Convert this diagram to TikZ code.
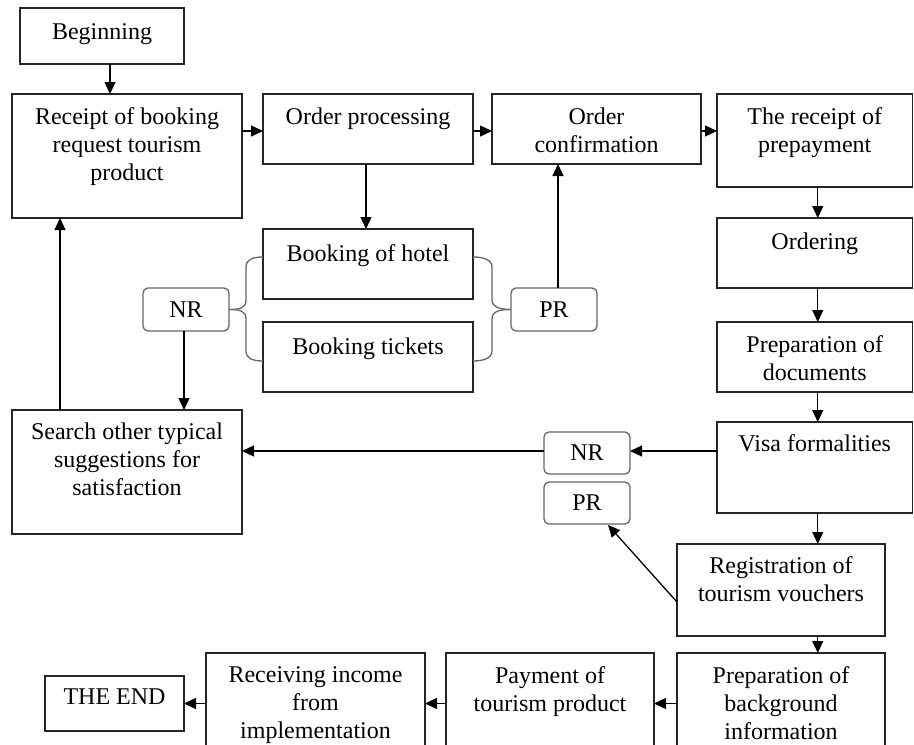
\documentclass[tikz,border=0pt]{standalone}
\usepackage{fontspec}
\setmainfont{Liberation Serif}
\usetikzlibrary{arrows.meta,calc}
\tikzset{
  boxst/.style={draw=black!85, line width=1.3pt, inner sep=0pt, outer sep=0pt},
  rbox/.style={draw=black!60, line width=1.3pt, rounded corners=5pt, inner sep=0pt, outer sep=0pt, font=\fontsize{24}{28}\selectfont},
  txt/.style={inner sep=0pt, outer sep=0pt, align=center, font=\fontsize{24}{28}\selectfont},
  arr/.style={line width=1.3pt, -{Triangle[length=12pt,width=11pt]}},
  brace/.style={draw=black!60, line width=1.3pt},
}
\newcommand\mybox[7]{%
  \node[boxst, minimum width={#4-#2}, minimum height={#5-#3}] (#1) at ({(#2+#4)/2},{(#3+#5)/2}) {};
  \node[txt, anchor=north] (#1t) at ($(#1.north)+(0,#6)$) {#7};
}
\newcommand\myrbox[6]{%
  \node[rbox, minimum width={#4-#2}, minimum height={#5-#3}] (#1) at ({(#2+#4)/2},{(#3+#5)/2}) {#6};
}
\begin{document}
\begin{tikzpicture}[x=1pt,y=-1pt]
\path[use as bounding box] (0,0) rectangle (914,745);
\clip (0,0) rectangle (914,745);

\mybox{begin}{20}{8}{184}{64}{15.5}{Beginning}
\mybox{receipt}{12}{94}{242}{218}{13.5}{Receipt of booking\\request tourism\\product}
\mybox{proc}{263}{94}{473}{164}{13.5}{Order processing}
\mybox{conf}{492}{94}{701}{164}{13.5}{Order\\confirmation}
\mybox{prepay}{717}{94}{912.5}{187}{13.5}{The receipt of\\prepayment}
\mybox{hotel}{263}{229}{473}{299}{15.5}{Booking of hotel}
\mybox{tickets}{263}{322}{473}{392}{15.5}{Booking tickets}
\mybox{ordering}{717}{218}{912.5}{288}{14.5}{Ordering}
\mybox{docs}{717}{322}{912.5}{392}{13.5}{Preparation of\\documents}
\mybox{visa}{717}{422}{912.5}{513}{12.5}{Visa formalities}
\mybox{search}{12}{410}{242}{534}{12.5}{Search other typical\\suggestions for\\satisfaction}
\mybox{reg}{677}{544}{885}{636}{12.5}{Registration of\\tourism vouchers}
\mybox{bg}{677}{653}{885}{790}{13.5}{Preparation of\\background\\information}
\mybox{pay}{446}{653}{654}{790}{13.5}{Payment of\\tourism product}
\mybox{recv}{206}{653}{425}{790}{13.5}{Receiving income\\from\\implementation}
\mybox{end}{45}{676}{184}{731}{12.5}{THE END}

\myrbox{nr1}{143}{288}{229}{331}{NR}
\myrbox{pr1}{511}{288}{597}{331}{PR}
\myrbox{nr2}{544}{432}{630}{474}{NR}
\myrbox{pr2}{544}{482}{630}{524}{PR}

% braces
\draw[brace] (nr1.east) .. controls (240,309.5) and (246,308) .. (246,300) -- (246,267) .. controls (246,260) and (252,257) .. ($(hotel.west)+(0,-7)$);
\draw[brace] (nr1.east) .. controls (240,309.5) and (246,311) .. (246,319) -- (246,351) .. controls (246,358) and (252,361) .. ($(tickets.west)+(0,4)$);
\draw[brace] ($(hotel.east)+(0,-7)$) .. controls (484,257) and (492,260) .. (492,267) -- (492,300) .. controls (492,307) and (500,309.5) .. (pr1.west);
\draw[brace] ($(tickets.east)+(0,4)$) .. controls (484,361) and (492,358) .. (492,351) -- (492,319) .. controls (492,311) and (500,309.5) .. (pr1.west);

% connector anchors
\coordinate (c1) at ($(begin.south)+(8,0)$);
\coordinate (c2) at ($(proc.west)+(0,2)$);
\coordinate (c3) at ($(conf.east)+(0,2)$);
\coordinate (c4) at ($(pr1.north)+(4,0)$);
\coordinate (c5) at ($(visa.south)+(3,0)$);
\coordinate (c6) at ($(nr2.east)+(0,-2)$);
\coordinate (c7) at ($(nr2.west)+(0,-2)$);
\coordinate (c8) at ($(nr1.south)+(-2,0)$);
\coordinate (c9) at ($(search.north)+(-67,0)$);

% arrows
\draw[arr] (c1) -- (c1 |- receipt.north);
\draw[arr] (c2 -| receipt.east) -- (c2);
\draw[arr] ($(proc.east)+(0,2)$) -- ($(conf.west)+(0,2)$);
\draw[arr] (c3) -- (c3 -| prepay.west);
\draw[arr] ($(proc.south)+(-2,0)$) -- ($(hotel.north)+(-2,0)$);
\draw[arr] (c4) -- (c4 |- conf.south);
\draw[arr] ($(prepay.south)+(3,0)$) -- ($(ordering.north)+(3,0)$);
\draw[arr] ($(ordering.south)+(3,0)$) -- ($(docs.north)+(3,0)$);
\draw[arr] ($(docs.south)+(3,0)$) -- ($(visa.north)+(3,0)$);
\draw[arr] (c5) -- (c5 |- reg.north);
\draw[arr] (c5 |- reg.south) -- (c5 |- bg.north);
\draw[arr] (c6 -| visa.west) -- (c6);
\draw[arr] (c7) -- (c7 -| search.east);
\draw[arr] ($(reg.west)+(0,12)$) -- ($(pr2.south)+(21,1)$);
\draw[arr] (bg.west |- end.east) -- (pay.east |- end.east);
\draw[arr] (pay.west |- end.east) -- (recv.east |- end.east);
\draw[arr] (recv.west |- end.east) -- (end.east);
\draw[arr] (c8) -- (c8 |- search.north);
\draw[arr] (c9) -- (c9 |- receipt.south);
\end{tikzpicture}
\end{document}
